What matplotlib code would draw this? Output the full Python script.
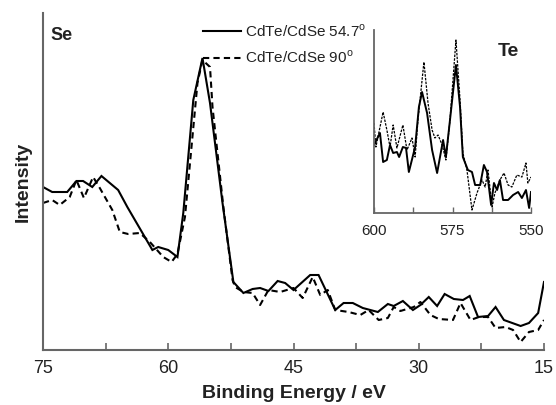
import matplotlib
matplotlib.use("Agg")
import matplotlib.pyplot as plt
from matplotlib.ticker import MultipleLocator

plt.rcParams['font.family'] = ['Liberation Sans', 'DejaVu Sans']
plt.rcParams['mathtext.fontset'] = 'custom'
plt.rcParams['mathtext.rm'] = 'Liberation Sans'

# ---- Se region (main) ----
se_be_547 = [75.0, 73.9, 72.1, 71.0, 70.2, 69.1, 68.0, 66.0, 64.9, 61.9, 61.2, 60.0, 58.9,
             58.2, 57.0, 55.9, 55.0, 53.5, 52.2, 51.0, 49.9, 49.0, 48.0, 46.9, 46.0, 45.0,
             43.0, 42.0, 40.0, 39.0, 37.9, 36.7, 34.9, 33.7, 33.0, 31.9, 30.7, 29.8, 28.8,
             27.8, 26.9, 25.8, 24.7, 23.9, 22.9, 21.7, 20.8, 19.8, 17.8, 16.8, 15.7, 15.0]
se_int_547 = [163, 158, 158, 169, 169, 163, 174, 160, 143, 100, 103, 100, 93,
              137, 250, 292, 247, 147, 68, 57, 61, 62, 59, 69, 67, 60,
              75, 75, 40, 47, 47, 42, 38, 46, 44, 49, 40, 45, 53,
              44, 56, 51, 50, 54, 33, 34, 43, 30, 24, 27, 37, 68]

se_be_90 = [75.0, 73.9, 73.0, 71.8, 71.0, 70.1, 69.0, 68.2, 66.7, 65.8, 64.8, 63.4, 62.2,
            60.6, 59.6, 58.9, 58.0, 56.5, 55.9, 55.0, 54.7, 53.4, 52.3, 52.0, 51.0, 49.9,
            49.0, 48.0, 46.6, 45.0, 43.9, 42.7, 41.8, 40.9, 40.0, 38.4, 37.0, 36.0, 34.8,
            33.7, 33.0, 32.2, 30.6, 29.8, 28.6, 27.6, 25.9, 25.0, 23.8, 22.8, 21.7, 20.8,
            19.6, 18.7, 17.8, 16.8, 15.7, 15.0]
se_int_90 = [147, 150, 145, 153, 170, 152, 173, 162, 140, 118, 116, 117, 108,
             93, 88, 96, 133, 267, 290, 283, 243, 143, 70, 63, 58, 57,
             45, 60, 58, 62, 52, 73, 55, 60, 40, 38, 35, 40, 30,
             32, 43, 39, 43, 48, 35, 31, 30, 47, 30, 33, 33, 22,
             23, 20, 8, 18, 20, 30]

# ---- Te region (inset) ----
te_be_547 = [600.0, 598.1, 597.1, 595.9, 594.9, 593.9, 592.7, 592.0, 590.8, 589.8, 588.9,
             586.9, 585.7, 584.7, 583.1, 581.5, 579.9, 578.0, 577.1, 575.8, 573.9, 572.6,
             571.7, 570.1, 568.8, 567.8, 566.2, 565.0, 564.0, 562.7, 561.8, 560.8, 559.9,
             558.9, 557.3, 555.7, 554.1, 552.9, 551.6, 550.6, 550.0]
te_int_547 = [68, 80, 51, 53, 68, 60, 61, 56, 66, 65, 41,
              66, 106, 121, 100, 63, 40, 73, 56, 93, 148, 106,
              56, 43, 41, 28, 28, 48, 41, 8, 30, 23, 33,
              13, 13, 18, 21, 15, 23, 5, 21]

te_be_90 = [600.0, 599.4, 597.1, 595.9, 594.9, 593.9, 592.7, 590.8, 589.5, 587.9, 586.9,
            586.0, 584.1, 582.8, 581.5, 580.6, 579.6, 578.3, 577.1, 575.8, 573.9, 572.6,
            571.7, 570.4, 568.8, 567.2, 565.6, 564.6, 563.7, 562.4, 561.5, 559.9, 558.6,
            557.3, 556.1, 554.5, 552.9, 551.6, 551.0, 550.0]
te_int_90 = [90, 66, 101, 83, 66, 88, 65, 88, 63, 75, 56,
             93, 151, 110, 83, 75, 78, 68, 53, 93, 173, 113,
             60, 43, 3, 20, 33, 26, 43, 6, 20, 33, 40,
             28, 26, 38, 36, 50, 30, 36]

labels = [r'CdTe/CdSe 54.7$^{\rm o}$', r'CdTe/CdSe 90$^{\rm o}$']
se_ticks = [75, 60, 45, 30, 15]
te_ticks = [600, 575, 550]

W, H = 556, 405
fig = plt.figure(figsize=(W / 100, H / 100), dpi=100)

def fx(px):
    return px / W

def fy(py):
    return 1 - py / H

spine_col = '#666666'

ax = fig.add_axes([fx(43), fy(350), fx(544) - fx(43), fy(13) - fy(350)])
l1, = ax.plot(se_be_547, se_int_547, color='black', lw=1.5, solid_joinstyle='miter')
l2, = ax.plot(se_be_90, se_int_90, color='black', lw=1.5, ls=(0, (3, 2)))
ax.set_xlim(75, 15)
ax.set_ylim(0, 337)
ax.set_xticks(se_ticks)
ax.xaxis.set_minor_locator(MultipleLocator(7.5))
ax.set_yticks([])
for s in ['top', 'right']:
    ax.spines[s].set_visible(False)
for s in ['left', 'bottom']:
    ax.spines[s].set_color(spine_col)
    ax.spines[s].set_linewidth(1.5)
ax.tick_params(axis='x', which='both', direction='in', length=5, width=1.2,
               color=spine_col, labelsize=13, pad=7, labelcolor='#222222')
ax.set_xlabel('Binding Energy / eV', fontsize=14, fontweight='bold', labelpad=6, color='#222222')
ax.set_ylabel('Intensity', fontsize=14, fontweight='bold', labelpad=8, color='#222222')
ax.text(fx(50), fy(27), 'Se', transform=fig.transFigure, fontsize=13, fontweight='bold',
        va='top', ha='left', color='#222222')

leg = ax.legend([l1, l2], labels, loc='upper left', frameon=False, fontsize=11,
                bbox_to_anchor=(fx(203), fy(23)), bbox_transform=fig.transFigure,
                borderpad=0, borderaxespad=0, handlelength=2.5, handletextpad=0.25,
                labelspacing=0.62)
for t in leg.get_texts():
    t.set_color('#222222')

ins = fig.add_axes([fx(374), fy(213), fx(531) - fx(374), fy(30) - fy(213)])
ins.plot(te_be_547, te_int_547, color='black', lw=1.4)
ins.plot(te_be_90, te_int_90, color='black', lw=0.9, ls=(0, (2, 1)))
ins.set_xlim(600, 550)
ins.set_ylim(0, 183)
ins.set_xticks(te_ticks)
ins.xaxis.set_minor_locator(MultipleLocator(12.5))
ins.set_yticks([])
ins.patch.set_alpha(0)
for s in ['top', 'right']:
    ins.spines[s].set_visible(False)
for s in ['left', 'bottom']:
    ins.spines[s].set_color(spine_col)
    ins.spines[s].set_linewidth(1.3)
ins.tick_params(axis='x', which='both', direction='in', length=4, width=1.0,
                color=spine_col, labelsize=11, pad=8, labelcolor='#222222')
ins.text(fx(498), fy(43), 'Te', transform=fig.transFigure, fontsize=14, fontweight='bold',
         va='top', ha='left', color='#222222')

fig.savefig('out.png', dpi=100)
